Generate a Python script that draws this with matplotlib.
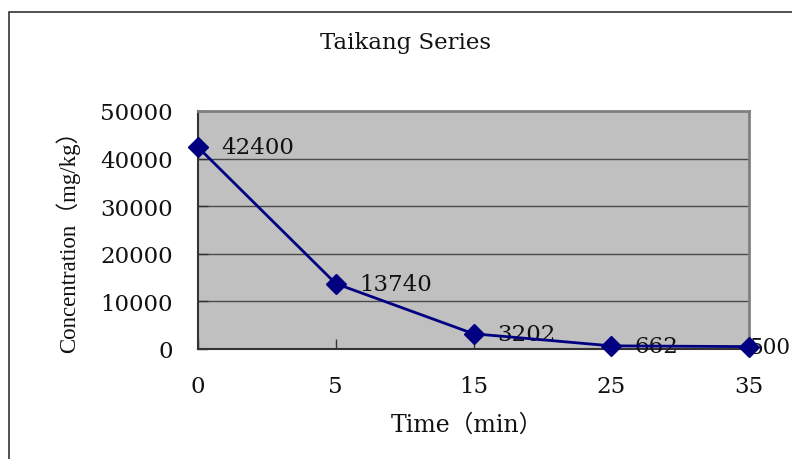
import matplotlib.pyplot as plt
from matplotlib.patches import Rectangle

# data
times = ['0', '5', '15', '25', '35']
conc = [42400, 13740, 3202, 662, 500]
label_dx = [17, 17, 17, 17, 0]  # label offsets in points (last one is squeezed by the edge)
label_fs = [16.5, 16.5, 16.5, 16.5, 15.5]

serif_wide = ['DejaVu Serif', 'Noto Sans CJK SC']
serif = ['Liberation Serif', 'Noto Sans CJK SC']

fig = plt.figure(figsize=(7.92, 4.6), dpi=100)

# outer chart border (runs off the right/bottom edge like the original)
fig.patches.append(Rectangle((9 / 792, -0.05), 1.0, 1 - 13 / 460 + 0.05,
                             transform=fig.transFigure, fill=False,
                             edgecolor='#333333', lw=1.2, clip_on=False))

ax = fig.add_axes([198 / 792, 110 / 460, 551 / 792, 238 / 460])
ax.set_facecolor('#C0C0C0')

x = list(range(len(times)))
ax.plot(x, conc, color='#000080', lw=2, marker='D', markersize=10,
        markerfacecolor='#000080', markeredgecolor='#000080', zorder=4, clip_on=False)

for xi, v, dx, fs in zip(x, conc, label_dx, label_fs):
    ax.annotate(str(v), (xi, v), xytext=(dx, 0), textcoords='offset points',
                ha='left', va='center', fontsize=fs, family=serif_wide,
                color='#111111', zorder=3, annotation_clip=False)

ax.set_xlim(0, 4)
ax.set_ylim(0, 50000)
ax.set_xticks(x)
ax.set_xticklabels(times)
ax.set_yticks([0, 10000, 20000, 30000, 40000, 50000])
ax.yaxis.grid(True, color='#4a4a4a', lw=1)
ax.set_axisbelow(True)

ax.tick_params(direction='in', length=7, width=1, color='#333333')
ax.tick_params(axis='y', pad=18)
ax.tick_params(axis='x', pad=19)
for lab in ax.get_xticklabels() + ax.get_yticklabels():
    lab.set_family(serif_wide)
    lab.set_fontsize(16.5)
    lab.set_color('#111111')

for s in ['top', 'right']:
    ax.spines[s].set_color('#808080')
    ax.spines[s].set_linewidth(2)
for s in ['left', 'bottom']:
    ax.spines[s].set_color('#333333')
    ax.spines[s].set_linewidth(1.5)

fig.text(405 / 792, 1 - 43 / 460, 'Taikang Series', ha='center', va='center',
         fontsize=16.5, family=serif_wide, color='#111111')
fig.text(467 / 792, 1 - 425 / 460, 'Time（min）', ha='center', va='center',
         fontsize=17, family=serif_wide, color='#111111')
fig.text(68 / 792, 1 - 236 / 460, 'Concentration（mg/kg）', ha='center', va='center',
         rotation=90, fontsize=16.5, family=serif, color='#111111')

fig.savefig('out.png', dpi=100)
plt.close(fig)
